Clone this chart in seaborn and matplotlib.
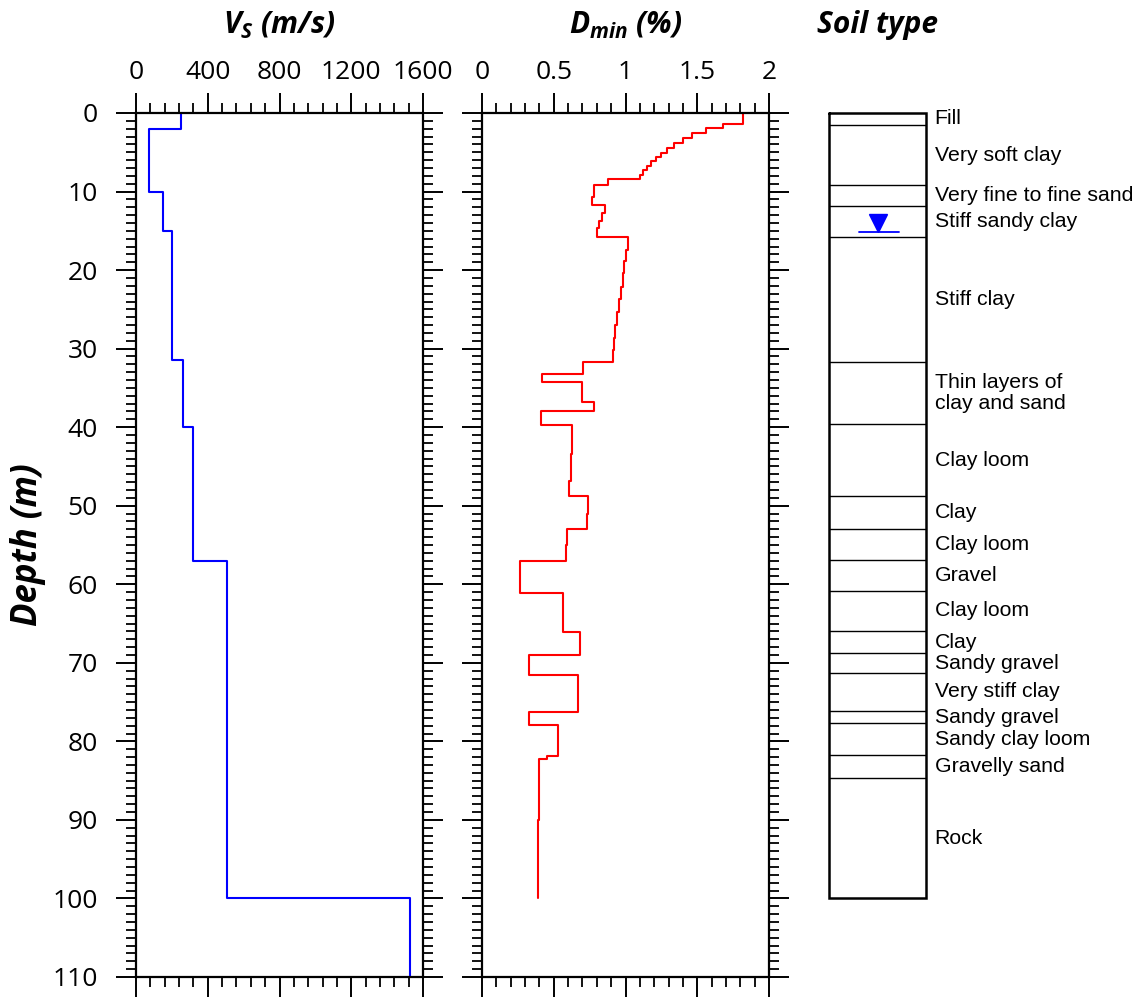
import numpy as np
import pandas as pd
import matplotlib
matplotlib.use("Agg")
import matplotlib.pyplot as plt
import seaborn as sns
from matplotlib.ticker import MultipleLocator, FixedLocator, FixedFormatter

# ---------------- data ----------------
# Shear-wave velocity profile (layer top depth, m ; Vs, m/s)
vs_top = [0, 2, 10, 15, 31.5, 40, 57, 100]
vs_val = [250, 75, 150, 200, 260, 320, 510, 1530]
vs_bottom = 110

# Minimum damping profile (layer top depth, m ; Dmin, %)
dmin_top = [0, 1.44, 1.95, 2.6, 3.15, 3.8, 4.5, 5.05, 5.55, 6.1, 6.7, 7.3, 7.9,
            8.45, 9.2, 10.7, 11.7, 12.7, 13.7, 14.7, 15.75, 17.4, 18.9, 20.4,
            22.1, 23.7, 25.35, 27.0, 28.6, 30.2, 31.7, 33.2, 34.2, 36.8, 38.0,
            39.7, 43.4, 46.8, 48.8, 51.0, 53.0, 55.0, 57.0, 61.1, 66.1, 69.0,
            71.6, 76.3, 77.9, 81.9, 82.3, 90.0]
dmin_val = [1.82, 1.676, 1.56, 1.465, 1.40, 1.337, 1.288, 1.244, 1.21, 1.18,
            1.15, 1.12, 1.10, 0.88, 0.78, 0.77, 0.855, 0.838, 0.817, 0.803,
            1.015, 1.003, 0.991, 0.98, 0.968, 0.954, 0.94, 0.93, 0.917, 0.91,
            0.706, 0.42, 0.694, 0.782, 0.413, 0.629, 0.62, 0.608, 0.736, 0.73,
            0.592, 0.588, 0.265, 0.566, 0.682, 0.33, 0.666, 0.325, 0.532,
            0.455, 0.397, 0.39]
dmin_bottom = 100

# Soil column
soil_bounds = [0, 1.5, 9.2, 11.8, 15.8, 31.7, 39.6, 48.8, 52.9, 56.9, 60.9,
               65.9, 68.8, 71.3, 76.1, 77.7, 81.7, 84.7, 100]
soil_names = ["Fill", "Very soft clay", "Very fine to fine sand",
              "Stiff sandy clay", "Stiff clay", "Thin layers of\nclay and sand",
              "Clay loom", "Clay", "Clay loom", "Gravel", "Clay loom", "Clay",
              "Sandy gravel", "Very stiff clay", "Sandy gravel",
              "Sandy clay loom", "Gravelly sand", "Rock"]
water_table_depth = 14.0

# Axis ticks / labels
depth_ticks = list(range(0, 111, 10))
vs_ticks = [0, 400, 800, 1200, 1600]
vs_tick_labels = ["0", "400", "800", "1200", "1600"]
dmin_ticks = [0, 0.5, 1, 1.5, 2]
dmin_tick_labels = ["0", "0.5", "1", "1.5", "2"]


def step_profile(tops, values, bottom):
    bounds = list(tops) + [bottom]
    depths, vals = [], []
    for i, v in enumerate(values):
        depths += [bounds[i], bounds[i + 1]]
        vals += [v, v]
    return pd.DataFrame({"value": vals, "depth": depths})


# ---------------- style ----------------
sns.set_style("white")
plt.rcParams["font.family"] = ["Open Sans", "DejaVu Sans"]
plt.rcParams["text.color"] = "black"
plt.rcParams["axes.labelcolor"] = "black"
plt.rcParams["xtick.color"] = "black"
plt.rcParams["ytick.color"] = "black"
plt.rcParams["xtick.labelcolor"] = "black"
plt.rcParams["ytick.labelcolor"] = "black"
plt.rcParams["mathtext.fontset"] = "custom"
plt.rcParams["mathtext.it"] = "Open Sans:italic:bold"
plt.rcParams["mathtext.rm"] = "Open Sans:italic:bold"
plt.rcParams["mathtext.bf"] = "Open Sans:italic:bold"

W, H = 1142, 1000
fig = plt.figure(figsize=(W / 100, H / 100), dpi=100)

top_px, bot_px = 113, 977
bottom_frac = 1 - bot_px / H
height_frac = (bot_px - top_px) / H

ax1 = fig.add_axes([136 / W, bottom_frac, 287 / W, height_frac])
ax2 = fig.add_axes([482 / W, bottom_frac, 287 / W, height_frac])
ax3 = fig.add_axes([829 / W, bottom_frac, (W - 829) / W, height_frac])

# ---------------- profiles ----------------
vs_df = step_profile(vs_top, vs_val, vs_bottom)
dmin_df = step_profile(dmin_top, dmin_val, dmin_bottom)

sns.lineplot(data=vs_df, x="value", y="depth", sort=False, estimator=None,
             color="#0000ff", lw=1.5, ax=ax1)
sns.lineplot(data=dmin_df, x="value", y="depth", sort=False, estimator=None,
             color="#ff0000", lw=1.5, ax=ax2)


def style_axis(ax, xlim, xticks, xlabels, xminor, show_ylabels):
    ax.set_xlim(*xlim)
    ax.set_ylim(110, 0)
    ax.xaxis.set_major_locator(FixedLocator(xticks))
    ax.xaxis.set_major_formatter(FixedFormatter(xlabels))
    ax.xaxis.set_minor_locator(MultipleLocator(xminor))
    ax.yaxis.set_major_locator(FixedLocator(depth_ticks))
    ax.yaxis.set_minor_locator(MultipleLocator(1))
    ax.set_xlabel("")
    ax.set_ylabel("")
    for s in ax.spines.values():
        s.set_linewidth(1.6)
        s.set_color("black")
        s.set_visible(True)
    ax.tick_params(axis="both", which="both", direction="out", color="black",
                   labelcolor="black")
    ax.tick_params(axis="both", which="major", length=14.5, width=1.4)
    ax.tick_params(axis="both", which="minor", length=7, width=1.3)
    ax.tick_params(axis="x", which="both", top=True, bottom=True,
                   labeltop=True, labelbottom=False)
    ax.tick_params(axis="x", which="major", pad=6, labelsize=19)
    ax.tick_params(axis="y", which="both", left=True, right=True,
                   labelleft=show_ylabels, labelright=False)
    ax.tick_params(axis="y", which="major", pad=13, labelsize=19)
    ax.grid(False)


style_axis(ax1, (0, 1600), vs_ticks, vs_tick_labels, 80, True)
style_axis(ax2, (0, 2), dmin_ticks, dmin_tick_labels, 0.1, False)

title_kw = dict(fontsize=21.5, fontweight="bold", style="italic",
                va="center", ha="center", color="black")
ax1.text(0.5, 1 + 88 / 864, r"$V_S$ (m/s)", transform=ax1.transAxes, **title_kw)
ax2.text(0.5, 1 + 88 / 864, r"$D_{min}$ (%)", transform=ax2.transAxes, **title_kw)

ax1.set_ylabel("Depth (m)", fontsize=25, fontweight="bold", style="italic",
               color="black")
ax1.yaxis.set_label_coords(-0.376, 0.5)
ax1.yaxis.label.set_va("center")

# ---------------- soil column ----------------
box_w_px = 97
ax3.set_xlim(0, (W - 829) / box_w_px)
ax3.set_ylim(110, 0)
ax3.axis("off")

for d in soil_bounds[1:-1]:
    ax3.plot([0, 1], [d, d], color="black", lw=1.0, solid_capstyle="butt")
ax3.plot([0, 1, 1, 0, 0],
         [soil_bounds[0], soil_bounds[0], soil_bounds[-1], soil_bounds[-1], soil_bounds[0]],
         color="black", lw=1.8, solid_joinstyle="miter", clip_on=False)

for i, name in enumerate(soil_names):
    mid = 0.5 * (soil_bounds[i] + soil_bounds[i + 1])
    ax3.text(1.09, mid, name, ha="left", va="center", fontsize=15.3,
             fontfamily="Liberation Sans", linespacing=1.1, color="black")

# water table symbol
ax3.plot([0.5], [water_table_depth], marker="v", markersize=13,
         color="#0000ff", linestyle="none")
ax3.plot([0.31, 0.72], [water_table_depth + 1.2, water_table_depth + 1.2],
         color="#0000ff", lw=1.3)

ax3.text(0.5, 1 + 88 / 864, "Soil type", transform=ax3.get_xaxis_transform(),
         **title_kw)

fig.savefig("out.png", dpi=100, facecolor="white")
